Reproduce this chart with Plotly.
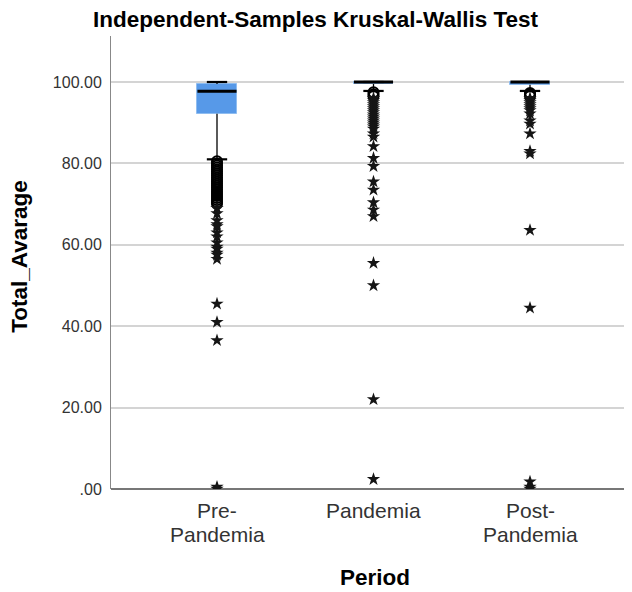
import plotly.graph_objects as go

categories = ["Pre-<br>Pandemia", "Pandemia", "Post-<br>Pandemia"]
q1 = [92.2, 99.5, 99.3]
median = [97.7, 100.0, 100.0]
q3 = [99.5, 100.0, 100.0]
lower_whisker = [81.0, 97.8, 97.8]
upper_whisker = [100.0, 100.0, 100.0]

# outliers (1.5-3 IQR, circles) and extremes (>3 IQR, stars)
pre_circles = [80.5, 80.0, 79.5, 79.0, 78.5, 78.0, 77.5, 77.0, 76.5, 76.0, 75.5, 75.0,
               74.5, 74.0, 73.5, 73.0, 72.5, 72.0, 71.5, 71.0, 70.5, 70.0]
pre_stars = [69.0, 67.7, 66.0, 65.0, 64.5, 63.0, 62.0, 60.5, 59.5, 59.0, 58.0, 57.5,
             56.5, 45.5, 41.0, 36.5, 0.5, 0.0]
pan_circles = [97.5, 97.0, 96.5]
pan_stars = [96.0, 95.5, 95.0, 94.5, 94.0, 93.5, 93.0, 92.5, 92.0, 91.5, 91.0, 90.5,
             90.0, 89.5, 89.0, 88.5, 87.3, 86.5, 84.2, 81.3, 79.3, 75.5, 73.5, 70.4,
             68.6, 67.0, 55.5, 50.0, 22.0, 2.4]
post_circles = [97.3, 97.0, 96.5]
post_stars = [96.0, 95.5, 95.0, 94.5, 94.0, 93.5, 93.0, 92.2, 90.5, 89.7, 87.3, 83.0,
              82.4, 63.6, 44.5, 1.8, 0.5, 0.0]

y_tickvals = [0, 20, 40, 60, 80, 100]
y_ticktext = [".00", "20.00", "40.00", "60.00", "80.00", "100.00"]

circles = [pre_circles, pan_circles, post_circles]
stars = [pre_stars, pan_stars, post_stars]

BOX_W = 0.25
CAP_W = 0.13
BLUE = "#5799e8"
font = "Liberation Sans, Arial, sans-serif"

# figure is drawn inside the page's 8px body margin
W, H = 624, 584
L, T, B = 103, 28, 102.5
PW, PH = W - L, H - T - B

fig = go.Figure()
xs = list(range(len(categories)))

# boxes
fig.add_trace(go.Bar(
    x=xs, y=[b - a for a, b in zip(q1, q3)], base=q1, width=BOX_W,
    marker=dict(color=BLUE, line=dict(color="#8fbdf0", width=1)),
    hoverinfo="skip", showlegend=False))

# whiskers
wx, wy = [], []
for i in xs:
    wx += [i, i, None, i, i, None]
    wy += [lower_whisker[i], q1[i], None, q3[i], upper_whisker[i], None]
fig.add_trace(go.Scatter(x=wx, y=wy, mode="lines", line=dict(color="black", width=1.3),
                         hoverinfo="skip", showlegend=False))

# caps
cx, cy = [], []
for i in xs:
    cx += [i - CAP_W / 2, i + CAP_W / 2, None, i - CAP_W / 2, i + CAP_W / 2, None]
    cy += [lower_whisker[i], lower_whisker[i], None, upper_whisker[i], upper_whisker[i], None]
fig.add_trace(go.Scatter(x=cx, y=cy, mode="lines", line=dict(color="black", width=2.2),
                         hoverinfo="skip", showlegend=False))

# medians
mx, my = [], []
for i in xs:
    mx += [i - BOX_W / 2, i + BOX_W / 2, None]
    my += [median[i], median[i], None]
fig.add_trace(go.Scatter(x=mx, y=my, mode="lines", line=dict(color="black", width=3),
                         hoverinfo="skip", showlegend=False))

# outliers
for i in xs:
    fig.add_trace(go.Scatter(
        x=[i] * len(circles[i]), y=circles[i], mode="markers",
        marker=dict(symbol="circle-open", size=10, color="black", line=dict(width=2)),
        showlegend=False))
    fig.add_trace(go.Scatter(
        x=[i] * len(stars[i]), y=stars[i], mode="markers",
        marker=dict(symbol="star", size=10, color="#151515", line=dict(width=0)),
        showlegend=False))

annotations = [
    dict(text="<b>Period</b>", xref="paper", yref="paper", x=(367 - L) / PW, y=-88.5 / PH,
         xanchor="center", yanchor="middle", showarrow=False,
         font=dict(size=22.5, color="black", family=font)),
    dict(text="<b>Total_Avarage</b>", xref="paper", yref="paper", x=(12 - L) / PW,
         y=(H - B - 249) / PH, xanchor="center", yanchor="middle", textangle=-90,
         showarrow=False, font=dict(size=22.5, color="black", family=font)),
]
# category labels (one annotation per text line, SPSS-like tight line spacing)
for i, lab in enumerate(categories):
    for j, line in enumerate(lab.split("<br>")):
        annotations.append(dict(
            text=line, x=i, xref="x", yref="paper", y=-(21.5 + 24 * j) / PH,
            xanchor="center", yanchor="middle", showarrow=False, borderpad=0,
            font=dict(size=21, color="#333", family=font)))

fig.update_layout(
    width=W, height=H,
    margin=dict(l=L, r=0, t=T, b=B, autoexpand=False),
    paper_bgcolor="white", plot_bgcolor="white",
    font=dict(family=font, color="#222"),
    title=dict(text="<b>Independent-Samples Kruskal-Wallis Test</b>", x=307.5 / W, xanchor="center",
               y=1 - 11 / H, yanchor="middle", xref="container", yref="container",
               font=dict(size=22.5, color="black", family=font)),
    bargap=0,
    annotations=annotations,
)
fig.update_xaxes(
    range=[-106 / 156.5, -106 / 156.5 + PW / 156.5], tickvals=xs, showticklabels=False,
    automargin=False, showgrid=False, zeroline=False, showline=False, ticks="",
)
fig.update_yaxes(
    range=[0, 111.3], tickvals=y_tickvals, ticktext=y_ticktext, automargin=False,
    tickfont=dict(size=16, color="#333"), showgrid=True, gridcolor="#d4d4d4", gridwidth=1.5,
    zeroline=True, zerolinecolor="#777", zerolinewidth=1.5,
    showline=True, linecolor="#888", linewidth=1, ticks="outside", ticklen=5,
    tickcolor="rgba(0,0,0,0)",
)
fig.write_html("out.html")
